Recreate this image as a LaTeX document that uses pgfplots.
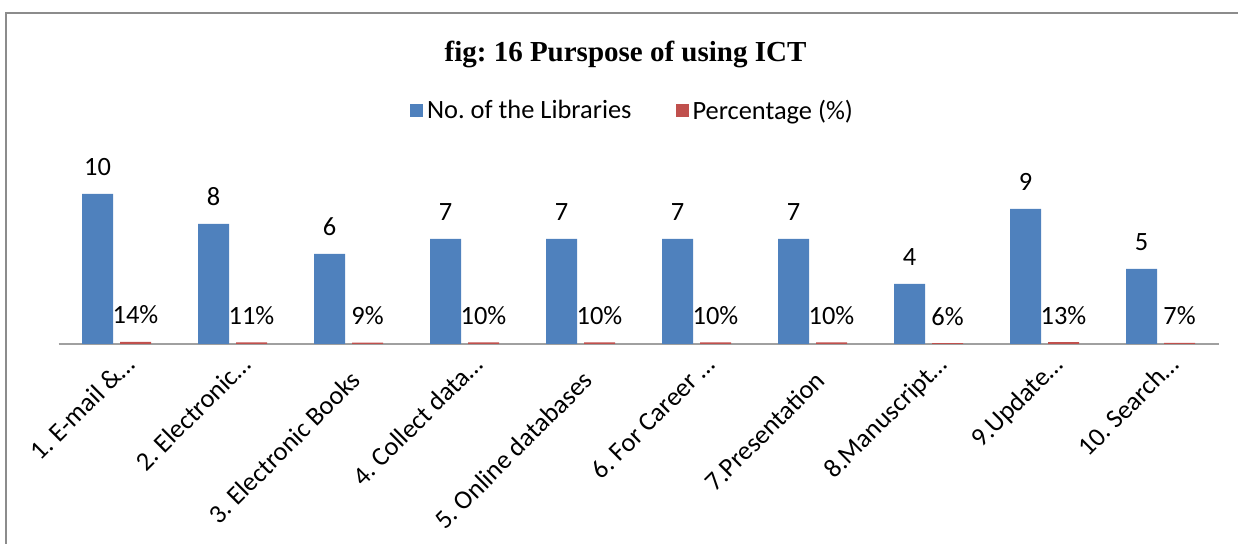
\documentclass[border=0pt]{standalone}
\usepackage{fontspec}
\setmainfont{Carlito}
\newfontfamily\titlefont{Liberation Serif}
\usepackage{pgfplots}
\pgfplotsset{compat=1.18}
\definecolor{barblue}{HTML}{4F81BD}
\definecolor{barred}{HTML}{C0504D}
\definecolor{framegray}{HTML}{8C8C8C}
\definecolor{axgray}{HTML}{A0A0A0}
\newcommand{\lf}{\fontsize{13.2pt}{15pt}\selectfont}
\newcommand{\full}[1]{\raisebox{-3.5pt}{#1}\hspace*{7.8pt}}
\frenchspacing
\begin{document}
\frenchspacing
\begin{tikzpicture}
\useasboundingbox (0,0) rectangle (619pt,272pt);
\draw[framegray, line width=0.9pt] (3pt,-2pt) -- (3pt,265.5pt) -- (621pt,265.5pt);
\node[anchor=base, font=\titlefont\bfseries\fontsize{14.5pt}{17pt}\selectfont] at (312.75pt,241pt) {fig: 16 Purspose of using ICT};
\begin{axis}[
  at={(29.25pt,100pt)}, anchor=south west,
  scale only axis, width=580pt, height=150pt,
  xmin=-0.5, xmax=9.5, ymin=0, ymax=20,
  axis y line=none, axis x line=bottom,
  x axis line style={-, draw=axgray, line width=0.75pt},
  xtick={0,...,9}, major tick length=0pt,
  xticklabels={1. E-mail \&…, 2. Electronic…, \full{3. Electronic Books}, 4. Collect data…, \full{5. Online databases}, 6. For Career …, \full{7.Presentation}, 8.Manuscript…, 9.Update…, 10. Search…},
  xticklabel style={font=\lf, anchor=base east, inner sep=0pt, xshift=10pt, yshift=-11pt, rotate=45},
  ybar, bar width=15.5pt,
  nodes near coords, point meta=explicit symbolic,
  every node near coord/.append style={font=\lf, anchor=base, yshift=9pt, inner sep=0pt, text=black},
  legend style={at={(0.4957,0.7767)}, anchor=center, draw=none, fill=none, font=\lf, legend columns=2,
    /tikz/every even column/.append style={column sep=20pt}},
  legend image code/.code={\fill[#1,draw=none] (0pt,-3.25pt) rectangle (6.5pt,3.25pt);},
]
\addplot[fill=barblue, draw=none, bar shift=-9.5pt] coordinates {
  (0,10) [10] (1,8) [8] (2,6) [6] (3,7) [7] (4,7) [7]
  (5,7) [7] (6,7) [7] (7,4) [4] (8,9) [9] (9,5) [5]};
\addlegendentry{No.\ of the Libraries}
\addplot[fill=barred, draw=none, bar shift=9.5pt] coordinates {
  (0,0.14) [14\%] (1,0.11) [11\%] (2,0.09) [9\%] (3,0.10) [10\%] (4,0.10) [10\%]
  (5,0.10) [10\%] (6,0.10) [10\%] (7,0.06) [6\%] (8,0.13) [13\%] (9,0.07) [7\%]};
\addlegendentry{Percentage (\%)}
\end{axis}
\end{tikzpicture}
\end{document}
